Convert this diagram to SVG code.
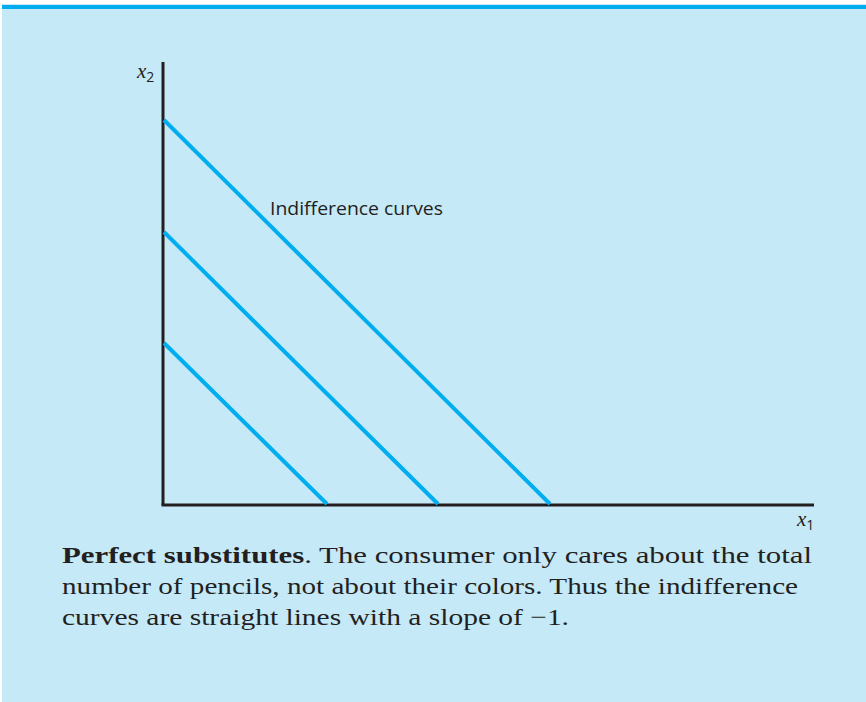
<svg xmlns="http://www.w3.org/2000/svg" width="866" height="702" viewBox="0 0 866 702">
<style>
.axis{stroke:#231f20;stroke-width:3;fill:none}
.ic{stroke:#00aeef;stroke-width:4;fill:none;stroke-linecap:butt}
.lbl{font-family:"Open Sans","DejaVu Sans",sans-serif;font-size:18px;fill:#231f20}
.var{font-family:"Liberation Serif",serif;font-style:italic;font-size:21px;fill:#231f20}
.sub{font-family:"Open Sans",sans-serif;font-style:normal;font-size:14px;fill:#231f20}
.cap{font-family:"Liberation Serif",serif;font-size:24px;fill:#231f20}
</style>
<rect x="2" y="4" width="864" height="698" fill="#c6e9f8"/>
<rect x="2" y="5" width="864" height="4" fill="#00aeef"/>
<g id="axes">
<line class="axis" x1="163" y1="62" x2="163" y2="505"/>
<line class="axis" x1="161.5" y1="505" x2="814" y2="505"/>
<text class="var" x="137" y="78">x<tspan class="sub" dy="4">2</tspan></text>
<text class="var" x="797" y="526">x<tspan class="sub" dy="4">1</tspan></text>
</g>
<g id="curves">
<line class="ic" x1="164" y1="120" x2="550" y2="504"/>
<line class="ic" x1="164" y1="232" x2="438" y2="504"/>
<line class="ic" x1="164" y1="343" x2="327" y2="504"/>
<text class="lbl" x="270" y="215" textLength="173" lengthAdjust="spacingAndGlyphs">Indifference curves</text>
</g>
<g id="caption">
<text class="cap" x="62" y="563" textLength="750" lengthAdjust="spacingAndGlyphs"><tspan font-weight="bold">Perfect substitutes</tspan>.  The consumer only cares about the total</text>
<text class="cap" x="62" y="594" textLength="736" lengthAdjust="spacingAndGlyphs">number of pencils, not about their colors.  Thus the indifference</text>
<text class="cap" x="62" y="625" textLength="507" lengthAdjust="spacingAndGlyphs">curves are straight lines with a slope of −1.</text>
</g>
</svg>
